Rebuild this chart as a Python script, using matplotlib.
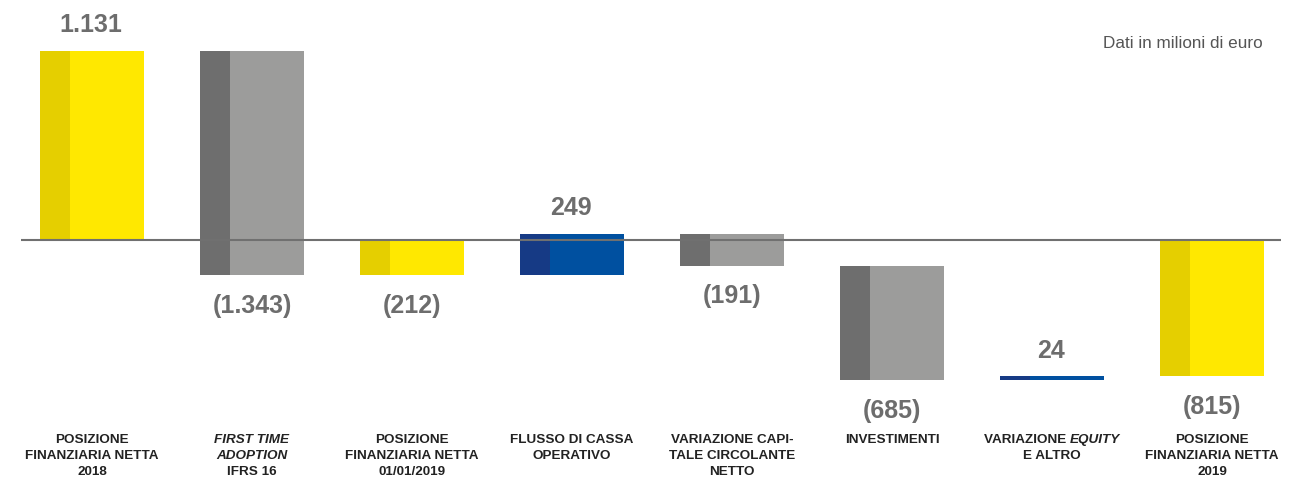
import matplotlib.pyplot as plt
from matplotlib import font_manager

plt.rcParams['font.family'] = ['Liberation Sans', 'DejaVu Sans']

# Dati (milioni di euro)
categorie = [
    ["POSIZIONE", "FINANZIARIA NETTA", "2018"],
    ["FIRST TIME", "ADOPTION", "IFRS 16"],
    ["POSIZIONE", "FINANZIARIA NETTA", "01/01/2019"],
    ["FLUSSO DI CASSA", "OPERATIVO"],
    ["VARIAZIONE CAPI-", "TALE CIRCOLANTE", "NETTO"],
    ["INVESTIMENTI"],
    ["VARIAZIONE EQUITY", "E ALTRO"],
    ["POSIZIONE", "FINANZIARIA NETTA", "2019"],
]
valori = [1131, -1343, -212, 249, -191, -685, 24, -815]
totali = [True, False, True, False, False, False, False, True]
etichette = ["1.131", "(1.343)", "(212)", "249", "(191)", "(685)", "24", "(815)"]

# colori: (parte scura, parte chiara)
GIALLO = ("#E5CF00", "#FFE800")
GRIGIO = ("#6E6E6E", "#9C9C9B")
BLU = ("#163A85", "#0050A0")

# font stretto per le etichette delle categorie, se c'è
nomi = {f.name for f in font_manager.fontManager.ttflist}
if "Liberation Sans Narrow" in nomi:
    font_cat = ["Liberation Sans Narrow", "DejaVu Sans"]
    size_cat = 11
else:
    font_cat = ["Liberation Sans", "DejaVu Sans"]
    size_cat = 9.7

fig = plt.figure(figsize=(12.92, 4.89), dpi=100)
ax = fig.add_axes([0, 0, 1, 1])
ax.set_xlim(-0.575, 7.5)
ax.set_ylim(-1481, 1439)
ax.axis("off")

larg = 0.65
scura = 0.1875
cumulato = 0
for i, v in enumerate(valori):
    if totali[i]:
        base, cima = 0, v
        colori = GIALLO
        cumulato = v
    else:
        base, cima = cumulato, cumulato + v
        cumulato += v
        colori = BLU if v > 0 else GRIGIO
    basso, alto = min(base, cima), max(base, cima)
    sx = i - larg / 2
    ax.bar(sx, alto - basso, bottom=basso, width=scura, align="edge",
           color=colori[0], linewidth=0, zorder=2)
    ax.bar(sx + scura, alto - basso, bottom=basso, width=larg - scura,
           align="edge", color=colori[1], linewidth=0, zorder=2)

    if v > 0:
        ax.annotate(etichette[i], (i, alto), xytext=(-1, 19), textcoords="offset points",
                    ha="center", va="center", fontsize=18, fontweight="bold",
                    color="#6D6D6D")
    else:
        ax.annotate(etichette[i], (i, basso), xytext=(0, -21), textcoords="offset points",
                    ha="center", va="center", fontsize=18, fontweight="bold",
                    color="#6D6D6D")

# linea dello zero
ax.plot([-0.444, 7.43], [0, 0], color="#707070", lw=1.5, zorder=3, solid_capstyle="butt")

# etichette delle categorie
righe_y = [440, 456, 472]
fig.canvas.draw()
rend = fig.canvas.get_renderer()
for i, righe in enumerate(categorie):
    xf = (92 + 160 * i) / 1292
    for j, riga in enumerate(righe):
        yf = 1 - righe_y[j] / 489
        stile = "normal"
        if i == 1 and j < 2:
            stile = "italic"
        if i == 6 and j == 0:
            # "VARIAZIONE " dritto + "EQUITY" corsivo
            t1 = fig.text(0, yf, "VARIAZIONE ", fontsize=size_cat, fontweight="bold",
                          family=font_cat, color="#222222", va="center")
            t2 = fig.text(0, yf, "EQUITY", fontsize=size_cat, fontweight="bold",
                          family=font_cat, style="italic", color="#222222", va="center")
            w1 = t1.get_window_extent(rend).width / 1292
            w2 = t2.get_window_extent(rend).width / 1292
            x0 = xf - (w1 + w2) / 2
            t1.set_x(x0)
            t2.set_x(x0 + w1)
            continue
        fig.text(xf, yf, riga, fontsize=size_cat, fontweight="bold", style=stile,
                 family=font_cat, color="#222222", ha="center", va="center")

fig.text(1263 / 1292, 1 - 43 / 489, "Dati in milioni di euro", fontsize=12.3,
         color="#555555", ha="right", va="center")

fig.savefig("out.png", dpi=100)
